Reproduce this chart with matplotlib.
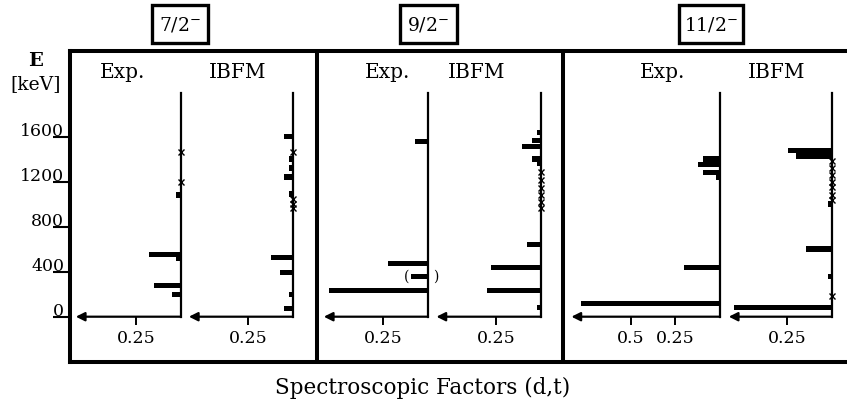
import matplotlib
matplotlib.use("Agg")
import numpy as np
import matplotlib.pyplot as plt
from matplotlib.patches import Rectangle
from matplotlib.transforms import blended_transform_factory

plt.rcParams['font.family'] = ['DejaVu Serif']
plt.rcParams['mathtext.fontset'] = 'dejavuserif'

# ---------------- data ----------------
spin_titles = ["7/2$^{-}$", "9/2$^{-}$", "11/2$^{-}$"]
sub_titles = ["Exp.", "IBFM"]
energy_ticks = [0, 400, 800, 1200, 1600]

exp72_E = [1080, 555, 515, 275, 200]
exp72_S = [0.026, 0.175, 0.026, 0.149, 0.050]
exp72_x = [1465, 1195]

ibfm72_E = [1600, 1400, 1320, 1240, 1090, 525, 395, 200, 75]
ibfm72_S = [0.049, 0.021, 0.021, 0.047, 0.020, 0.123, 0.071, 0.021, 0.049]
ibfm72_x = [1465, 1050, 1005, 965]

exp92_E = [1555, 475, 360, 235]
exp92_S = [0.074, 0.225, 0.097, 0.551]
exp92_x = []
exp92_paren = [360]  # tentative level, drawn in parentheses

ibfm92_E = [1635, 1565, 1515, 1400, 1365, 640, 440, 235, 80]
ibfm92_S = [0.025, 0.052, 0.104, 0.052, 0.020, 0.077, 0.279, 0.303, 0.025]
ibfm92_x = [1290, 1215, 1140, 1080, 1020, 965]

exp112_E = [1400, 1355, 1280, 1235, 440, 120]
exp112_S = [0.097, 0.125, 0.097, 0.025, 0.201, 0.777]
exp112_x = []

ibfm112_E = [1475, 1430, 1000, 600, 355, 80]
ibfm112_S = [0.246, 0.200, 0.020, 0.145, 0.020, 0.544]
ibfm112_x = [1380, 1320, 1260, 1200, 1150, 1080, 1035, 180]

panels_E = [exp72_E, ibfm72_E, exp92_E, ibfm92_E, exp112_E, ibfm112_E]
panels_S = [exp72_S, ibfm72_S, exp92_S, ibfm92_S, exp112_S, ibfm112_S]
panels_x = [exp72_x, ibfm72_x, exp92_x, ibfm92_x, exp112_x, ibfm112_x]
panels_xticks = [[0.25], [0.25], [0.25], [0.25], [0.5, 0.25], [0.25]]

# ---------------- layout (pixels) ----------------
W, H, DPI = 847, 407, 100
Y0 = 316.7          # pixel row of E = 0
PX_PER_KEV = 0.1125
PX_PER_UNIT = 179.0
Y_AXTOP = 93.0
axis_px = [180.7, 292.7, 428.0, 541.0, 720.0, 831.7]
tip_val = [0.586, 0.580, 0.582, 0.584, 0.830, 0.575]
sub_title_x = [123, 238, 388, 477, 663, 777]
title_cx = [180.3, 428.3, 711.0]
title_w = [56, 57, 64]

def rect(l, t, r, b):
    return [l / W, 1 - b / H, (r - l) / W, (b - t) / H]

def e_at(py):
    return (Y0 - py) / PX_PER_KEV

fig = plt.figure(figsize=(W / DPI, H / DPI), dpi=DPI)

# ---- frame axes ----
FL, FT, FR, FB = 69.7, 51.3, 860.0, 362.0
frame = fig.add_axes(rect(FL, FT, FR, FB), zorder=0)
frame.set_xlim(0, FR - FL)
frame.set_ylim(e_at(FB), e_at(FT))
for s in ['left', 'top', 'bottom']:
    frame.spines[s].set_linewidth(2.9)
frame.spines['right'].set_visible(False)
frame.set_xticks([])
frame.set_yticks(energy_ticks)
frame.set_yticklabels([])
frame.tick_params(axis='y', direction='out', length=12, width=1.5)
for xd in [317.0, 562.5]:
    frame.axvline(xd - FL, color='k', lw=2.9)
tr = blended_transform_factory(frame.transAxes, frame.transData)
for e in energy_ticks:
    frame.text((64.0 - FL) / (FR - FL), e + 8, str(e), transform=tr,
               ha='right', va='baseline', fontsize=12.5, clip_on=False)

fig.text(35 / W, 1 - 61 / H, "E", ha='center', va='center', fontsize=14,
         fontweight='bold')
fig.text(36 / W, 1 - 84 / H, "[keV]", ha='center', va='center', fontsize=13.5)

# ---- sub-panels ----
for i in range(6):
    R = axis_px[i]
    L = R - tip_val[i] * PX_PER_UNIT
    ax = fig.add_axes(rect(L, Y_AXTOP, R, Y0), zorder=2)
    ax.patch.set_visible(False)
    ax.set_xlim(tip_val[i], 0)
    ax.set_ylim(0, e_at(Y_AXTOP))
    for s in ['left', 'top', 'bottom']:
        ax.spines[s].set_visible(False)
    ax.spines['right'].set_linewidth(1.6)
    ax.set_yticks([])
    ax.set_xticks(panels_xticks[i])
    ax.set_xticklabels([f"{v:g}" for v in panels_xticks[i]], fontsize=12.5)
    ax.tick_params(axis='x', direction='out', length=5.8, width=1.4, pad=4)
    ax.barh(panels_E[i], panels_S[i], height=48, left=0, color='k', clip_on=False)
    if panels_x[i]:
        ax.plot(np.zeros(len(panels_x[i])), panels_x[i], 'x', color='k',
                ms=4, mew=1.0, clip_on=False, zorder=3)
    ax.annotate('', xy=(tip_val[i], 0), xytext=(0, 0),
                arrowprops=dict(arrowstyle='-|>', lw=1.6, color='k',
                                mutation_scale=13, shrinkA=0, shrinkB=0),
                annotation_clip=False)
    if i == 2:
        for e in exp92_paren:
            k = exp92_E.index(e)
            ax.text(exp92_S[k] + 0.008, e, "(", ha='right', va='center', fontsize=10)
            ax.text(-0.028, e, ")", ha='left', va='center', fontsize=10, clip_on=False)
    fig.text(sub_title_x[i] / W, 1 - 72 / H, sub_titles[i % 2],
             ha='center', va='center', fontsize=14.5)

# ---- spin titles in boxes ----
for j in range(3):
    cx, w = title_cx[j], title_w[j]
    fig.patches.append(Rectangle(((cx - w / 2) / W, 1 - 43.3 / H), w / W, 38.3 / H,
                                 transform=fig.transFigure, fill=False,
                                 lw=2.4, edgecolor='k'))
    fig.text(cx / W, 1 - 25 / H, spin_titles[j], ha='center', va='center',
             fontsize=13.5)

fig.text(423 / W, 1 - 388 / H, "Spectroscopic Factors (d,t)",
         ha='center', va='center', fontsize=15.5)

fig.savefig("out.png", dpi=DPI)
